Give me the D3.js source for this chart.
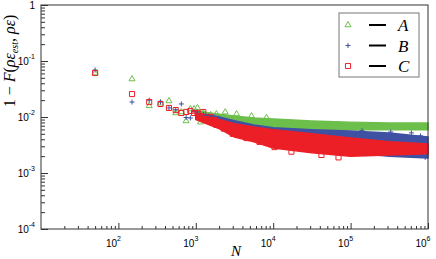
<!DOCTYPE html>
<html>
<head>
<meta charset="utf-8">
<script src="https://cdn.jsdelivr.net/npm/d3@7"></script>
<style>
  body { margin: 0; background: #fff; }
  .tick-label { font-family: "Liberation Sans", Arial, sans-serif; font-size: 10px; fill: #000; }
  .sup { font-size: 7px; }
  .math { font-family: "Liberation Serif", "DejaVu Serif", serif; font-style: italic; fill: #000; }
</style>
</head>
<body>
<div id="chart"></div>
<script>
// individual markers at small N
const pointN = [50, 150, 250, 350, 450, 550, 650, 750, 850, 950,
                1050, 1150, 1250, 1350, 1450, 1550, 1650, 1750, 1850, 1950];
const valuesA = [0.061, 0.0477, 0.0158, 0.0176, 0.0193, 0.0118, 0.0123, 0.0085, 0.0139, 0.0139,
                 0.0145, 0.0081, 0.0118, 0.0104, 0.0088, 0.0109, 0.0096, 0.0085, 0.0113, 0.0092];
const valuesB = [0.069, 0.0185, 0.020, 0.0185, 0.0145, 0.0135, 0.0171, 0.0098, 0.0096, 0.0125,
                 0.0123, 0.0096, 0.0113, 0.0085, 0.0104, 0.0092, 0.0078, 0.0100, 0.0088, 0.0096];
const valuesC = [0.061, 0.0257, 0.0185, 0.0171, 0.0145, 0.0133, 0.0118, 0.0123, 0.0128, 0.0118,
                 0.0118, 0.0104, 0.0123, 0.0092, 0.0085, 0.0100, 0.0078, 0.0088, 0.0072, 0.0081];

// stray markers at the edge of the dense cloud
const strayNA = [2400, 3360, 5250, 8200];
const strayVA = [0.0122, 0.0113, 0.0104, 0.0097];
const strayNB = [2600, 3500, 4300, 1.4e5, 3.3e5, 6.1e5, 8.0e5, 9.2e5];
const strayVB = [0.0068, 0.0056, 0.0049, 0.0057, 0.0054, 0.0052, 0.0046, 0.0019];
const strayNC = [2300, 3000, 4520, 6650, 10400, 17200, 42000, 69800];
const strayVC = [0.0062, 0.0050, 0.0042, 0.0036, 0.0029, 0.0024, 0.0021, 0.0019];

// dense cloud at large N, read as lower / upper envelope
const bandN = [1000, 2000, 3160, 5620, 1e4, 3.16e4, 1e5, 3.16e5, 1e6];
const bandHiA = [0.0128, 0.0112, 0.0104, 0.0096, 0.0092, 0.0085, 0.0081, 0.0078, 0.0078];
const bandLoA = [0.0092, 0.0072, 0.0069, 0.0066, 0.0064, 0.0061, 0.0059, 0.0059, 0.0059];
const bandHiB = [0.0118, 0.0100, 0.0086, 0.0072, 0.0064, 0.0059, 0.0056, 0.0052, 0.0044];
const bandLoB = [0.0095, 0.0072, 0.0058, 0.0048, 0.0039, 0.0028, 0.0023, 0.0020, 0.00185];
const bandHiC = [0.0110, 0.0090, 0.0076, 0.0066, 0.0059, 0.0050, 0.0042, 0.0036, 0.0033];
const bandLoC = [0.0090, 0.0062, 0.0044, 0.0036, 0.0028, 0.0023, 0.0020, 0.0021, 0.0022];

const xDecades = [1e2, 1e3, 1e4, 1e5, 1e6];
const yDecades = [1e-4, 1e-3, 1e-2, 1e-1, 1];

const width = 436;
const height = 259;

const svg = d3.select("#chart")
    .append("svg")
    .attr("width", width)
    .attr("height", height);

const x = d3.scaleLog().domain([10, 1e6]).range([41, 428]);
const y = d3.scaleLog().domain([1e-4, 1]).range([229, 5]);

const colorA = "#6dbf4b";
const colorB = "#3f51a3";
const colorC = "#ec1f27";

const series = [
    { name: "A", color: colorA, values: valuesA, hi: bandHiA, lo: bandLoA, sN: strayNA, sV: strayVA, shape: "tri" },
    { name: "B", color: colorB, values: valuesB, hi: bandHiB, lo: bandLoB, sN: strayNB, sV: strayVB, shape: "plus" },
    { name: "C", color: colorC, values: valuesC, hi: bandHiC, lo: bandLoC, sN: strayNC, sV: strayVC, shape: "sq" }
];

function markerPath(shape) {
    if (shape === "tri") return d3.symbol(d3.symbolTriangle, 16)();
    if (shape === "sq") return d3.symbol(d3.symbolSquare, 26)();
    return "M-2.5,0H2.5M0,-2.5V2.5";
}

const area = d3.area()
    .x(d => x(d.N))
    .y0(d => y(d.lo))
    .y1(d => y(d.hi));

const plot = svg.append("g");

series.forEach(s => {
    const band = bandN.map((N, i) => ({ N: N, lo: s.lo[i], hi: s.hi[i] }));
    plot.append("path")
        .datum(band)
        .attr("d", area)
        .attr("fill", s.color)
        .attr("stroke", s.color)
        .attr("stroke-width", 1.5)
        .attr("stroke-linejoin", "round");

    const pts = pointN.map((N, i) => ({ N: N, v: s.values[i] }))
        .concat(s.sN.map((N, i) => ({ N: N, v: s.sV[i] })));

    plot.selectAll(".m" + s.name)
        .data(pts)
        .enter()
        .append("path")
        .attr("class", "m" + s.name)
        .attr("d", markerPath(s.shape))
        .attr("transform", d => "translate(" + x(d.N) + "," + y(d.v) + ")")
        .attr("fill", "none")
        .attr("stroke", s.color)
        .attr("stroke-width", 1);
});

// axes with inward ticks
const axisColor = "#333";

const xMajor = svg.append("g")
    .attr("transform", "translate(0,229)")
    .call(d3.axisBottom(x).tickValues(xDecades).tickSize(-6).tickFormat(""));
const xMinorVals = [];
[10, 100, 1000, 1e4, 1e5].forEach(d => { for (let k = 2; k <= 9; k++) xMinorVals.push(d * k); });
const xMinor = svg.append("g")
    .attr("transform", "translate(0,229)")
    .call(d3.axisBottom(x).tickValues(xMinorVals).tickSize(-3).tickFormat(""));

const yMajor = svg.append("g")
    .attr("transform", "translate(41,0)")
    .call(d3.axisLeft(y).tickValues(yDecades).tickSize(-7).tickFormat(""));
const yMinorVals = [];
[1e-4, 1e-3, 1e-2, 1e-1].forEach(d => { for (let k = 2; k <= 9; k++) yMinorVals.push(d * k); });
const yMinor = svg.append("g")
    .attr("transform", "translate(41,0)")
    .call(d3.axisLeft(y).tickValues(yMinorVals).tickSize(-4).tickFormat(""));

[xMajor, xMinor, yMajor, yMinor].forEach(g => {
    g.selectAll("line").attr("stroke", axisColor);
    g.select(".domain").remove();
});

// box
svg.append("rect")
    .attr("x", 41).attr("y", 5)
    .attr("width", 428 - 41).attr("height", 229 - 5)
    .attr("fill", "none")
    .attr("stroke", axisColor)
    .attr("stroke-width", 1);

// tick labels
xDecades.forEach(d => {
    const e = Math.round(Math.log10(d));
    const t = svg.append("text")
        .attr("class", "tick-label")
        .attr("x", x(d) - 5)
        .attr("y", 247)
        .attr("text-anchor", "middle");
    t.append("tspan").text("10");
    t.append("tspan").attr("class", "sup").attr("dy", -6).text(e);
});

yDecades.forEach(d => {
    const e = Math.round(Math.log10(d));
    const t = svg.append("text")
        .attr("class", "tick-label")
        .attr("x", 35)
        .attr("y", y(d) + 4)
        .attr("text-anchor", "end");
    if (e === 0) {
        t.text("1");
    } else {
        t.append("tspan").text("10");
        t.append("tspan").attr("class", "sup").attr("dy", -6).text(e);
    }
});

// axis titles
svg.append("text")
    .attr("class", "math")
    .attr("x", 236)
    .attr("y", 256)
    .attr("text-anchor", "middle")
    .attr("font-size", 15)
    .text("N");

const yTitle = svg.append("text")
    .attr("class", "math")
    .attr("transform", "translate(15,61) rotate(-90)")
    .attr("text-anchor", "middle")
    .attr("font-size", 16);
yTitle.append("tspan").attr("font-style", "normal").text("1 − ");
yTitle.append("tspan").text("F");
yTitle.append("tspan").attr("font-style", "normal").text("(");
yTitle.append("tspan").text("ρε");
yTitle.append("tspan").attr("font-size", 10).attr("dy", 3).text("est");
yTitle.append("tspan").attr("dy", -3).attr("font-style", "normal").text(", ");
yTitle.append("tspan").text("ρε");
yTitle.append("tspan").attr("font-style", "normal").text(")");

// legend
const legend = svg.append("g");
legend.append("rect")
    .attr("x", 339).attr("y", 13)
    .attr("width", 80).attr("height", 64)
    .attr("fill", "#fff")
    .attr("stroke", "#777")
    .attr("stroke-width", 1);

const legendItem = legend.selectAll(".legend")
    .data(series)
    .enter()
    .append("g")
    .attr("class", "legend")
    .attr("transform", (d, i) => "translate(0," + (25 + i * 20.5) + ")");

legendItem.append("path")
    .attr("d", d => markerPath(d.shape))
    .attr("transform", "translate(348,0)")
    .attr("fill", "none")
    .attr("stroke", d => d.color)
    .attr("stroke-width", 1);

legendItem.append("line")
    .attr("x1", 369).attr("x2", 386)
    .attr("y1", 0).attr("y2", 0)
    .attr("stroke", "#000")
    .attr("stroke-width", 2);

legendItem.append("text")
    .attr("class", "math")
    .attr("x", 398)
    .attr("y", 6)
    .attr("font-size", 17)
    .text(d => d.name);
</script>
</body>
</html>
